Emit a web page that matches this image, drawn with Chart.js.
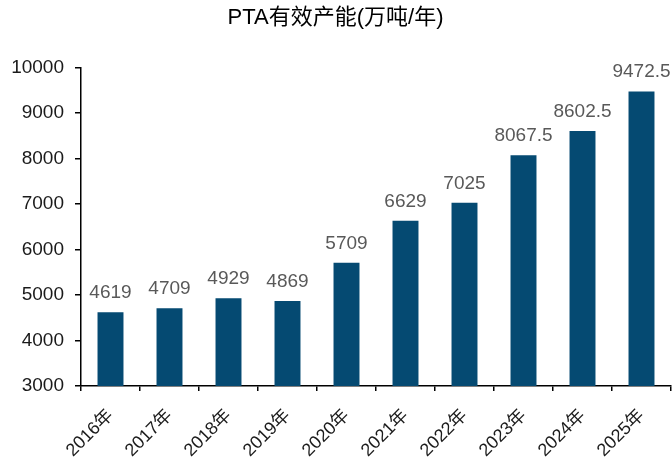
<!DOCTYPE html>
<html>
<head>
<meta charset="utf-8">
<script src="https://cdn.jsdelivr.net/npm/chart.js@4"></script>
<style>
	html, body { margin: 0; padding: 0; background: #fff; }
	#wrap { width: 672px; height: 461px; }
</style>
</head>
<body>
<div id="wrap"><canvas id="ptachart"></canvas></div>
<script>
var years = ['2016年', '2017年', '2018年', '2019年', '2020年', '2021年', '2022年', '2023年', '2024年', '2025年'];
var capacity = [4619, 4709, 4929, 4869, 5709, 6629, 7025, 8067.5, 8602.5, 9472.5];
var yTicks = [3000, 4000, 5000, 6000, 7000, 8000, 9000, 10000];

var fontFamily = 'Arial, "Liberation Sans", "Noto Sans CJK SC", sans-serif';

// value labels above each bar
var barLabels = {
	id: 'barLabels',
	afterDatasetsDraw: function (chart) {
		var ctx = chart.ctx;
		var meta = chart.getDatasetMeta(0);
		ctx.save();
		ctx.font = '19px ' + fontFamily;
		ctx.fillStyle = '#595959';
		ctx.textAlign = 'center';
		ctx.textBaseline = 'alphabetic';
		meta.data.forEach(function (bar, i) {
			ctx.fillText(String(capacity[i]), bar.x, bar.y - 14);
		});
		ctx.restore();
	}
};

var ctx = document.getElementById('ptachart').getContext('2d');
var ptaChart = new Chart(ctx, {
	type: 'bar',
	data: {
		labels: years,
		datasets: [{
			label: 'PTA有效产能',
			data: capacity,
			backgroundColor: '#054a72',
			barPercentage: 0.44,
			categoryPercentage: 1
		}]
	},
	options: {
		responsive: true,
		maintainAspectRatio: false,
		animation: false,
		layout: {
			padding: { left: 0, right: 1, top: 0, bottom: 0 }
		},
		plugins: {
			legend: { display: false },
			tooltip: { enabled: false },
			title: {
				display: true,
				text: 'PTA有效产能(万吨/年)',
				color: '#000',
				font: { family: fontFamily, size: 22, weight: 'normal' },
				padding: { top: 5, bottom: 36 }
			}
		},
		scales: {
			y: {
				min: 3000,
				max: 10000,
				afterFit: function (scale) { scale.width = 81; },
				afterBuildTicks: function (scale) {
					scale.ticks = yTicks.map(function (v) { return { value: v }; });
				},
				border: { color: '#000', width: 1.5 },
				grid: {
					drawOnChartArea: false,
					drawTicks: true,
					tickLength: 6,
					color: '#000',
					lineWidth: 1.5
				},
				ticks: {
					color: '#1a1a1a',
					padding: 11,
					font: { family: fontFamily, size: 19 },
					callback: function (value) { return String(value); }
				}
			},
			x: {
				afterFit: function (scale) { scale.height = 75; },
				border: { color: '#000', width: 1.5 },
				grid: {
					drawOnChartArea: false,
					drawTicks: true,
					tickLength: 5,
					color: '#000',
					lineWidth: 1.5
				},
				ticks: {
					color: '#1a1a1a',
					minRotation: 45,
					maxRotation: 45,
					padding: 14,
					font: { family: fontFamily, size: 18 }
				}
			}
		}
	},
	plugins: [barLabels]
});
</script>
</body>
</html>
